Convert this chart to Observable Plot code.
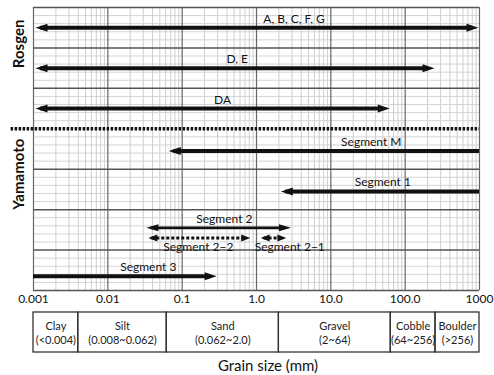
<!DOCTYPE html>
<html>
<head>
<meta charset="utf-8">
<script src="https://cdn.jsdelivr.net/npm/d3@7"></script>
<script src="https://cdn.jsdelivr.net/npm/@observablehq/plot@0.6"></script>
<style>
  html, body { margin: 0; padding: 0; background: #fff; }
  #chart svg { display: block; }
  .caption { width: 494px; box-sizing: border-box; padding-left: 42px; text-align: center;
    font-family: Lato, "Open Sans", sans-serif; font-size: 15px; color: #111; margin-top: 2px; line-height: 18px; }
</style>
</head>
<body>
<div id="chart"></div>
<script>
// ---- data ----
const groupNames = ["Rosgen", "Yamamoto"];
const groupCenter = [1.5, 5];           // row-units (0..7)
const segNames = ["A, B, C, F, G", "D, E", "DA", "Segment M", "Segment 1", "Segment 2", "Segment 2\u22122", "Segment 2\u22121", "Segment 3"];
const segFrom  = [0.001, 0.001, 0.001, 0.062, 2, 0.031, 0.033, 1.07, 0.001];
const segTo    = [1000, 256, 64, 1000, 1000, 3, 0.85, 2.6, 0.3];
const segRow   = [0.5, 1.5, 2.5, 3.55, 4.55, 5.45, 5.7, 5.7, 6.65];
const segHeads = ["both", "both", "both", "start", "start", "both", "both", "both", "end"];
const segStyle = ["solid", "solid", "solid", "solid", "solid", "thin", "dotted", "dotted", "solid"];
const labelX   = [3.2, 0.55, 0.35, 35, 50, 0.37, 0.165, 2.8, 0.035];
const labelSide = ["above", "above", "above", "above", "above", "above", "below", "below", "above"];

const tickValues = [0.001, 0.01, 0.1, 1, 10, 100, 1000];
const tickLabels = ["0.001", "0.01", "0.1", "1.0", "10.0", "100.0", "1000"];

const classNames  = ["Clay", "Silt", "Sand", "Gravel", "Cobble", "Boulder"];
const classRanges = ["(<0.004)", "(0.008~0.062)", "(0.062~2.0)", "(2~64)", "(64~256)", "(>256)"];
const classBounds = [0.001, 0.004, 0.062, 2, 64, 256, 1000];

// ---- helpers ----
const FONT = "Lato, 'Open Sans', sans-serif";
const rowCount = 7;
const minorX = [];
for (let e = -3; e < 3; e++) for (let k = 2; k <= 9; k++) minorX.push(k * Math.pow(10, e));
const minorY = [];
for (let r = 0; r < rowCount; r++) for (let s = 1; s < 5; s++) minorY.push(r + s / 5);
const majorY = [0, 1, 2, 4, 5, 6, 7];

function headSymbol(len, hw, dir) {
  return { draw(ctx) {
    ctx.moveTo(0, 0);
    ctx.lineTo(-dir * len, -hw);
    ctx.lineTo(-dir * len, hw);
    ctx.closePath();
  }};
}
const styleSpec = {
  solid:  { w: 4,   dash: null,  len: 12, hw: 4 },
  thin:   { w: 2.6, dash: null,  len: 12, hw: 3.5 },
  dotted: { w: 3,   dash: "3,2", len: 9,  hw: 3.5 }
};

const segMarks = [];
segNames.forEach((name, i) => {
  const s = styleSpec[segStyle[i]];
  const hasStart = segHeads[i] === "both" || segHeads[i] === "start";
  const hasEnd = segHeads[i] === "both" || segHeads[i] === "end";
  segMarks.push(Plot.ruleY([i], {
    y: j => segRow[j], x1: j => segFrom[j], x2: j => segTo[j],
    stroke: "#111", strokeWidth: s.w, strokeDasharray: s.dash,
    insetLeft: hasStart ? s.len * 0.6 : 0, insetRight: hasEnd ? s.len * 0.6 : 0
  }));
  if (hasStart) segMarks.push(Plot.dot([i], {x: j => segFrom[j], y: j => segRow[j], symbol: headSymbol(s.len, s.hw, -1), fill: "#111", stroke: "none", dx: 2}));
  if (hasEnd) segMarks.push(Plot.dot([i], {x: j => segTo[j], y: j => segRow[j], symbol: headSymbol(s.len, s.hw, 1), fill: "#111", stroke: "none", dx: -1}));
});

const labelIdx = segNames.map((d, i) => i);

const main = Plot.plot({
  width: 494, height: 310,
  marginLeft: 33, marginRight: 15, marginTop: 7, marginBottom: 20,
  style: { fontFamily: FONT, fontSize: "12px", color: "#111", background: "#fff" },
  x: { type: "log", domain: [0.001, 1000], ticks: tickValues, tickSize: 0, tickPadding: 4,
       tickFormat: d => tickLabels[tickValues.findIndex(t => Math.abs(Math.log10(t) - Math.log10(d)) < 1e-6)], label: null },
  y: { domain: [0, rowCount], reverse: true, axis: null },
  marks: [
    Plot.ruleX(minorX, { stroke: "#c9c9c9", strokeWidth: 0.9 }),
    Plot.ruleY(minorY, { stroke: "#cfcfcf", strokeWidth: 0.9 }),
    Plot.ruleX(tickValues, { stroke: "#666", strokeWidth: 1.2 }),
    Plot.ruleY(majorY, { stroke: "#555", strokeWidth: 1.5 }),
    Plot.ruleY([3], { x1: 0.0005, x2: 1000, stroke: "#111", strokeWidth: 3.5, strokeDasharray: "2.5,1.5" }),
    ...segMarks,
    Plot.text(labelIdx, {
      x: i => labelX[i], y: i => segRow[i] + (labelSide[i] === "above" ? -0.22 : 0.22),
      text: i => segNames[i], fill: "#111", fontSize: 12
    }),
    Plot.text(groupNames, {
      frameAnchor: "left", y: (d, i) => groupCenter[i], text: d => d, rotate: -90, dx: -14,
      fontSize: 15, fontWeight: "bold", fill: "#111"
    })
  ]
});

const table = Plot.plot({
  width: 494, height: 44,
  marginLeft: 33, marginRight: 15, marginTop: 2, marginBottom: 2,
  style: { fontFamily: FONT, fontSize: "11px", color: "#111", background: "#fff" },
  x: { type: "log", domain: [0.001, 1000], axis: null },
  y: { domain: [0, 1], axis: null },
  marks: [
    Plot.rect(classNames, {
      x1: (d, i) => classBounds[i], x2: (d, i) => classBounds[i + 1], y1: 0, y2: 1,
      fill: "none", stroke: "#333", strokeWidth: 1.3
    }),
    Plot.text(classNames, {
      x: (d, i) => Math.sqrt(classBounds[i] * classBounds[i + 1]), y: 0.5,
      text: (d, i) => d + "\n" + classRanges[i], lineHeight: 1.3, fontSize: 11, fill: "#222"
    })
  ]
});

const root = document.getElementById("chart");
root.appendChild(main);
root.appendChild(table);
const cap = document.createElement("div");
cap.className = "caption";
cap.textContent = "Grain size (mm)";
root.appendChild(cap);
</script>
</body>
</html>
